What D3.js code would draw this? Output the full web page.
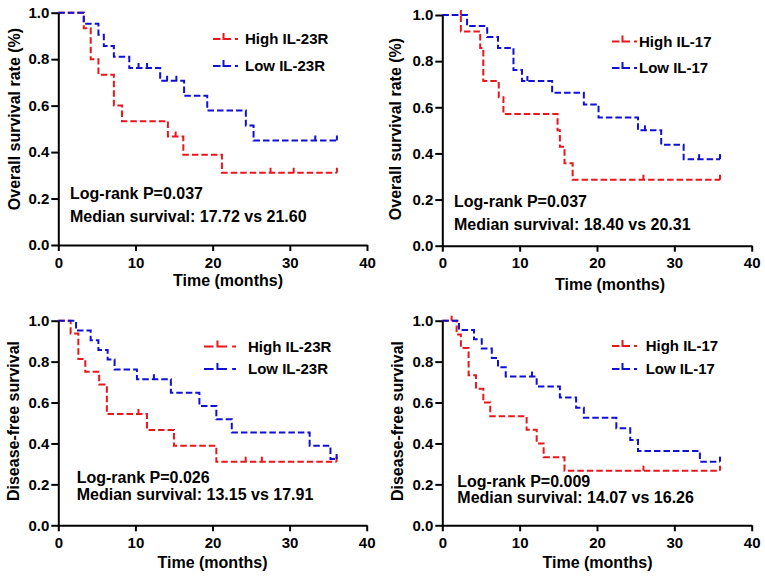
<!DOCTYPE html>
<html><head><meta charset="utf-8">
<script src="https://cdn.jsdelivr.net/npm/d3@7"></script>
<style>
body{margin:0;background:#fff}
svg text{font-family:"Liberation Sans",Arial,sans-serif;font-weight:bold;fill:#000}
</style>
</head><body>
<svg id="chart" width="765" height="580"></svg>
<script>
// ---------- data ----------
const xTicks = [0, 10, 20, 30, 40];
const yTicks = [0, 0.2, 0.4, 0.6, 0.8, 1.0];

// Panel A: overall survival, IL-23R
const osIL23RHighTimes = [3.3, 4.2, 5.2, 7.2, 8.25, 14.2, 16.2, 21.2];
const osIL23RHighSurv  = [0.933, 0.800, 0.733, 0.600, 0.533, 0.467, 0.389, 0.311];
const osIL23RHighCens  = [15.2, 27.5, 30.5, 36.1];
const osIL23RLowTimes  = [3.3, 5.2, 5.9, 7.2, 9.2, 13.2, 16.3, 19.3, 24.3, 25.3];
const osIL23RLowSurv   = [0.952, 0.905, 0.857, 0.810, 0.762, 0.707, 0.643, 0.579, 0.514, 0.450];
const osIL23RLowCens   = [10.4, 11.5, 14.1, 15.3, 33.3, 36.1];

// Panel B: overall survival, IL-17
const osIL17HighTimes = [2.4, 4.9, 5.3, 7.3, 7.9, 14.9, 15.2, 15.8, 16.85];
const osIL17HighSurv  = [0.929, 0.857, 0.714, 0.643, 0.571, 0.500, 0.429, 0.357, 0.286];
const osIL17HighCens  = [2.4, 26.0, 35.9];
const osIL17LowTimes  = [3.2, 5.8, 7.2, 9.2, 10.3, 14.2, 18.3, 20.2, 25.3, 28.3, 31.2];
const osIL17LowSurv   = [0.952, 0.905, 0.857, 0.762, 0.714, 0.663, 0.612, 0.556, 0.500, 0.4375, 0.375];
const osIL17LowCens   = [11.0, 26.2, 33.2, 35.9];

// Panel C: disease-free survival, IL-23R
const dfsIL23RHighTimes = [1.6, 2.6, 3.5, 5.3, 6.3, 11.5, 15.0, 20.5];
const dfsIL23RHighSurv  = [0.938, 0.813, 0.750, 0.688, 0.544, 0.466, 0.389, 0.311];
const dfsIL23RHighCens  = [10.4, 24.3, 26.4, 36.1];
const dfsIL23RLowTimes  = [2.3, 4.2, 5.2, 6.4, 7.3, 10.2, 14.6, 18.3, 20.5, 22.5, 32.6, 35.3];
const dfsIL23RLowSurv   = [0.952, 0.905, 0.857, 0.810, 0.762, 0.714, 0.648, 0.583, 0.518, 0.453, 0.389, 0.324];
const dfsIL23RLowCens   = [12.4, 36.1];

// Panel D: disease-free survival, IL-17
const dfsIL17HighTimes = [1.85, 2.4, 3.4, 4.35, 5.3, 6.2, 10.9, 12.2, 13.1, 15.8];
const dfsIL17HighSurv  = [0.933, 0.867, 0.733, 0.667, 0.600, 0.533, 0.467, 0.400, 0.333, 0.267];
const dfsIL17HighCens  = [1.2, 26.0, 35.9];
const dfsIL17LowTimes  = [2.15, 4.1, 5.1, 6.4, 7.2, 8.2, 12.2, 15.2, 17.3, 18.3, 22.5, 24.3, 25.3, 33.3];
const dfsIL17LowSurv   = [0.955, 0.909, 0.864, 0.818, 0.773, 0.727, 0.678, 0.625, 0.575, 0.526, 0.474, 0.417, 0.363, 0.311];
const dfsIL17LowCens   = [11.6, 35.9];

const endTimes = [36.1, 35.9, 36.1, 35.9];
const legendLabels = [["High IL-23R","Low IL-23R"],["High IL-17","Low IL-17"],["High IL-23R","Low IL-23R"],["High IL-17","Low IL-17"]];
const yTitles = ["Overall survival rate (%)","Overall survival rate (%)","Disease-free survival","Disease-free survival"];
const pValues = ["Log-rank P=0.037","Log-rank P=0.037","Log-rank P=0.026","Log-rank P=0.009"];
const medians = ["Median survival: 17.72 vs 21.60","Median survival: 18.40 vs 20.31","Median survival: 13.15 vs 17.91","Median survival: 14.07 vs 16.26"];
const xTitle = "Time (months)";

const seriesData = [
  [{t:osIL23RHighTimes,s:osIL23RHighSurv,c:osIL23RHighCens},{t:osIL23RLowTimes,s:osIL23RLowSurv,c:osIL23RLowCens}],
  [{t:osIL17HighTimes,s:osIL17HighSurv,c:osIL17HighCens},{t:osIL17LowTimes,s:osIL17LowSurv,c:osIL17LowCens}],
  [{t:dfsIL23RHighTimes,s:dfsIL23RHighSurv,c:dfsIL23RHighCens},{t:dfsIL23RLowTimes,s:dfsIL23RLowSurv,c:dfsIL23RLowCens}],
  [{t:dfsIL17HighTimes,s:dfsIL17HighSurv,c:dfsIL17HighCens},{t:dfsIL17LowTimes,s:dfsIL17LowSurv,c:dfsIL17LowCens}]
];

// ---------- layout ----------
const colors = ["#e8161d", "#1010d4"];
const layout = [
  {x0:58.3, x1:367, yt:12.7, yb:245, yTitleX:20, yTitleY:119, xTitleX:228, xTitleY:286,
   legX:213, legW:25, legY:[39,66], legTX:245, annX:70, annY:[199,222]},
  {x0:442.3, x1:751.7, yt:15, yb:245.7, yTitleX:401, yTitleY:129, xTitleX:610, xTitleY:290,
   legX:612, legW:25, legY:[41.5,68], legTX:639, annX:454, annY:[206.5,229.5]},
  {x0:58.3, x1:366.7, yt:320.7, yb:525.3, yTitleX:19, yTitleY:421, xTitleX:212.5, xTitleY:568,
   legX:204, legW:32, legY:[346.5,369], legTX:248, annX:76.7, annY:[483.3,500]},
  {x0:442.3, x1:751.7, yt:320.7, yb:525.3, yTitleX:403, yTitleY:421, xTitleX:597.5, xTitleY:568,
   legX:612, legW:25, legY:[346,369], legTX:645.7, annX:457.3, annY:[486.7,503.3]}
];

const svg = d3.select("#chart");
svg.append("rect").attr("width",765).attr("height",580).attr("fill","#fff");

layout.forEach((L, i) => {
  const x = d3.scaleLinear().domain([0, 40]).range([L.x0, L.x1]);
  const y = d3.scaleLinear().domain([0, 1]).range([L.yb, L.yt]);
  const g = svg.append("g");

  // curves
  seriesData[i].forEach((ser, k) => {
    const pts = [[0, 1]];
    ser.t.forEach((t, j) => pts.push([t, ser.s[j]]));
    pts.push([endTimes[i], ser.s[ser.s.length - 1]]);
    const line = d3.line().x(d => x(d[0])).y(d => y(d[1])).curve(d3.curveStepAfter);
    g.append("path").attr("d", line(pts)).attr("fill", "none")
      .attr("stroke", colors[k]).attr("stroke-width", 2)
      .attr("stroke-dasharray", "6.5,3");
    // censor ticks
    ser.c.forEach(c => {
      let lvl = 1;
      ser.t.forEach((t, j) => { if (t < c) lvl = ser.s[j]; });
      g.append("line").attr("x1", x(c)).attr("x2", x(c))
        .attr("y1", y(lvl)).attr("y2", y(lvl) - 5)
        .attr("stroke", colors[k]).attr("stroke-width", 2);
    });
  });

  // axes
  const xa = d3.axisBottom(x).tickValues(xTicks).tickFormat(d3.format("d"))
    .tickSize(6).tickSizeOuter(0).tickPadding(6);
  const ya = d3.axisLeft(y).tickValues(yTicks).tickFormat(d3.format(".1f"))
    .tickSize(7).tickSizeOuter(0).tickPadding(2);
  const gx = g.append("g").attr("transform", `translate(0,${L.yb})`).call(xa);
  const gy = g.append("g").attr("transform", `translate(${L.x0},0)`).call(ya);
  [gx, gy].forEach(a => {
    a.select(".domain").attr("stroke", "#000").attr("stroke-width", 2);
    a.selectAll(".tick line").attr("stroke", "#000").attr("stroke-width", 2);
    a.selectAll(".tick text").style("font-size", "15px")
      .style("font-family", '"Liberation Sans",Arial,sans-serif')
      .style("font-weight", "bold").attr("fill", "#000");
  });

  // titles
  g.append("text").attr("x", L.xTitleX).attr("y", L.xTitleY)
    .attr("text-anchor", "middle").style("font-size", "16px").text(xTitle);
  g.append("text").attr("transform", `translate(${L.yTitleX},${L.yTitleY}) rotate(-90)`)
    .attr("text-anchor", "middle").style("font-size", "16px").text(yTitles[i]);

  // legend
  legendLabels[i].forEach((lab, k) => {
    const ly = L.legY[k], lx = L.legX, w = L.legW;
    const p = d3.path();
    p.moveTo(lx, ly); p.lineTo(lx + 0.3 * w, ly);
    p.moveTo(lx + 0.42 * w, ly - 6); p.lineTo(lx + 0.42 * w, ly); p.lineTo(lx + 0.72 * w, ly);
    p.moveTo(lx + 0.88 * w, ly); p.lineTo(lx + w, ly);
    g.append("path").attr("d", p.toString()).attr("fill", "none")
      .attr("stroke", colors[k]).attr("stroke-width", 2);
    g.append("text").attr("x", L.legTX).attr("y", ly + 5)
      .style("font-size", "15px").text(lab);
  });

  // annotations
  g.append("text").attr("x", L.annX).attr("y", L.annY[0]).style("font-size", "16px").text(pValues[i]);
  g.append("text").attr("x", L.annX).attr("y", L.annY[1]).style("font-size", "16px").text(medians[i]);
});
</script>
</body></html>
